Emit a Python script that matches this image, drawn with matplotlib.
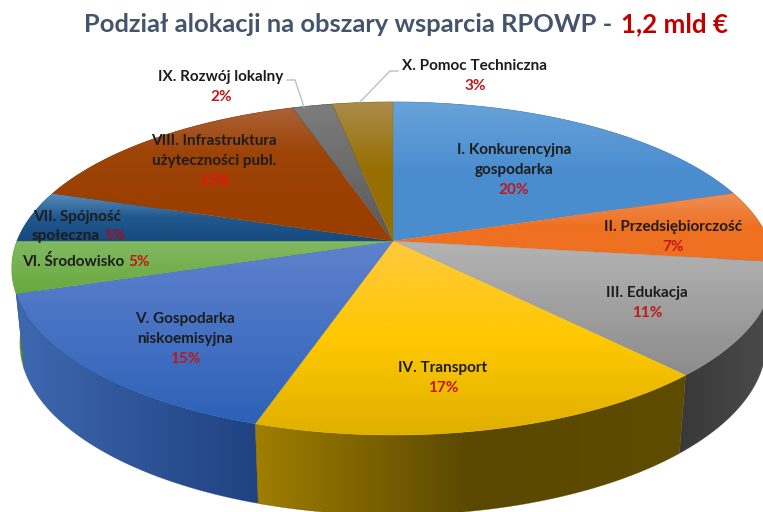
import numpy as np
import matplotlib
matplotlib.use("Agg")
import matplotlib.pyplot as plt
from matplotlib.colors import to_rgb
from matplotlib.patches import Polygon

plt.rcParams["font.family"] = ["Lato", "DejaVu Sans"]

# slices, clockwise from the top
names = [
    "I. Konkurencyjna\ngospodarka", "II. Przedsiębiorczość", "III. Edukacja",
    "IV. Transport", "V. Gospodarka\nniskoemisyjna", "VI. Środowisko",
    "VII. Spójność\nspołeczna", "VIII. Infrastruktura\nużyteczności publ.",
    "IX. Rozwój lokalny", "X. Pomoc Techniczna",
]
shares = [20, 7, 11, 17, 15, 5, 5, 15, 2, 3]

top_colors = [
    ["#69a3da", "#4a8dcf", "#4a8dcf"], ["#ee9058", "#ee7020", "#ee7020"], ["#b4b4b4", "#8c8c8c"],
    ["#ffc840", "#ffc800", "#e0b000"], ["#5f82cd", "#2c61b8"], ["#82b961", "#69a83e"],
    ["#5d8cbc", "#20598f", "#17497e"], ["#ab6238", "#9e4408", "#9c4002", "#9a3e00"],
    ["#7d7d7d", "#585858"], ["#ab8c4c", "#976f00", "#976f00"],
]
wall_colors = [
    ["#3a6ea5", "#2c5a8c"], ["#a85010", "#a04808"], ["#383838", "#4c4c4c"],
    ["#a07e00", "#5a4800", "#5e4c00"], ["#3e68b0", "#1f4281"], ["#5f9a3a", "#4e8a30"],
    ["#17497e", "#17497e"], ["#7a3000", "#7a3000"], ["#444444", "#444444"],
    ["#7a5a00", "#7a5a00"],
]

TITLE_DARK = "#44546a"
TITLE_RED = "#c00000"
LABEL_DARK = "#1c1c1c"
PCT_RED = "#c01818"
LABEL_SIZE = 11

# label anchor for each slice: centre x, y of first line
label_pos = [
    (514, 150), (673, 227), (647, 293), (443, 368), (185, 319),
    (84, 262), (77, 217), (214, 141), (221, 77), (475, 66),
]
LINE_GAP = 20


def project(theta, a, b, k, x0, y0):
    u, v = np.sin(theta), np.cos(theta)
    den = 1 + k * v
    return x0 + a * u / den, y0 - b * v / den


def top_arc(t):
    return project(t, 376, 162, 0.165, 393, 241)


def bottom_arc(t):
    return project(t, 368, 167, 0.165, 393, 315)


def gradient(stops, vertical=True):
    rgb = np.array([to_rgb(c) for c in stops])
    pos = np.linspace(0, 1, len(stops))
    s = np.linspace(0, 1, 256)
    g = np.stack([np.interp(s, pos, rgb[:, i]) for i in range(3)], axis=-1)
    return g[:, None, :] if vertical else g[None, :, :]


def fill_gradient(ax, pts, stops, vertical, z):
    xs, ys = pts[:, 0], pts[:, 1]
    extent = [xs.min(), xs.max(), ys.max(), ys.min()]
    im = ax.imshow(gradient(stops, vertical), extent=extent, aspect="auto",
                   interpolation="bilinear", zorder=z)
    edge = Polygon(pts, closed=True, fill=False, lw=0.4, zorder=z,
                   edgecolor=stops[len(stops) // 2], alpha=0.6, transform=ax.transData)
    ax.add_patch(edge)
    im.set_clip_path(edge)


fig = plt.figure(figsize=(7.63, 5.12), dpi=100, facecolor="white")
ax = fig.add_axes([0, 0, 1, 1])

edges = np.cumsum([0] + shares) / sum(shares) * 2 * np.pi
for i, share in enumerate(shares):
    t = np.linspace(edges[i], edges[i + 1], 80)
    ux, uy = top_arc(t)
    lx, ly = bottom_arc(t)
    wall = np.column_stack([np.r_[ux, lx[::-1]], np.r_[uy, ly[::-1]]])
    # farther walls first so the front ones sit over them
    fill_gradient(ax, wall, wall_colors[i], False, 2 - np.cos(t.mean()) * 0.5)

cx, cy = top_arc(np.array([0.0, np.pi / 2]))[0][0], top_arc(np.array([np.pi / 2]))[1][0]
for i, share in enumerate(shares):
    t = np.linspace(edges[i], edges[i + 1], 80)
    ux, uy = top_arc(t)
    pts = np.column_stack([np.r_[cx, ux], np.r_[cy, uy]])
    fill_gradient(ax, pts, top_colors[i], True, 4)

# title
ax.text(612, 24, "Podział alokacji na obszary wsparcia RPOWP -", ha="right", va="center",
        color=TITLE_DARK, fontsize=18.35, fontweight="bold", zorder=6)
ax.text(621, 24, "1,2 mld €", ha="left", va="center", color=TITLE_RED,
        fontsize=18.6, fontweight="bold", zorder=6)

# slice labels
for i, (name, share) in enumerate(zip(names, shares)):
    x, y = label_pos[i]
    lines = name.split("\n")
    pct = f"{share}%"
    if i in (5, 6):
        continue
    for j, line in enumerate(lines):
        ax.text(x, y + j * LINE_GAP, line, ha="center", va="center", color=LABEL_DARK,
                fontsize=LABEL_SIZE, fontweight="bold", zorder=6)
    ax.text(x, y + len(lines) * LINE_GAP, pct, ha="center", va="center",
            color="#f01010" if i == 7 else PCT_RED, fontsize=LABEL_SIZE, fontweight="bold", zorder=6)

# labels with the percent on the same line
ax.text(124, 262, names[5], ha="right", va="center", color=LABEL_DARK,
        fontsize=LABEL_SIZE, fontweight="bold", zorder=6)
ax.text(128, 262, f"{shares[5]}%", ha="left", va="center", color=PCT_RED,
        fontsize=LABEL_SIZE, fontweight="bold", zorder=6)
first, second = names[6].split("\n")
ax.text(77, 217, first, ha="center", va="center", color=LABEL_DARK,
        fontsize=LABEL_SIZE, fontweight="bold", zorder=6)
ax.text(100, 236, second, ha="right", va="center", color=LABEL_DARK,
        fontsize=LABEL_SIZE, fontweight="bold", zorder=6)
ax.text(104, 236, f"{shares[6]}%", ha="left", va="center", color="#a01020",
        fontsize=LABEL_SIZE, fontweight="bold", zorder=6)

# leader lines
ax.plot([287, 295, 304], [80, 80, 107], color="#b4c2d2", lw=1, zorder=5)
ax.plot([398, 390, 360], [71, 71, 102], color="#b4c2d2", lw=1, zorder=5)

ax.set_xlim(0, 763)
ax.set_ylim(512, 0)
ax.axis("off")

fig.savefig("out.png", dpi=100, facecolor="white")
plt.close(fig)
